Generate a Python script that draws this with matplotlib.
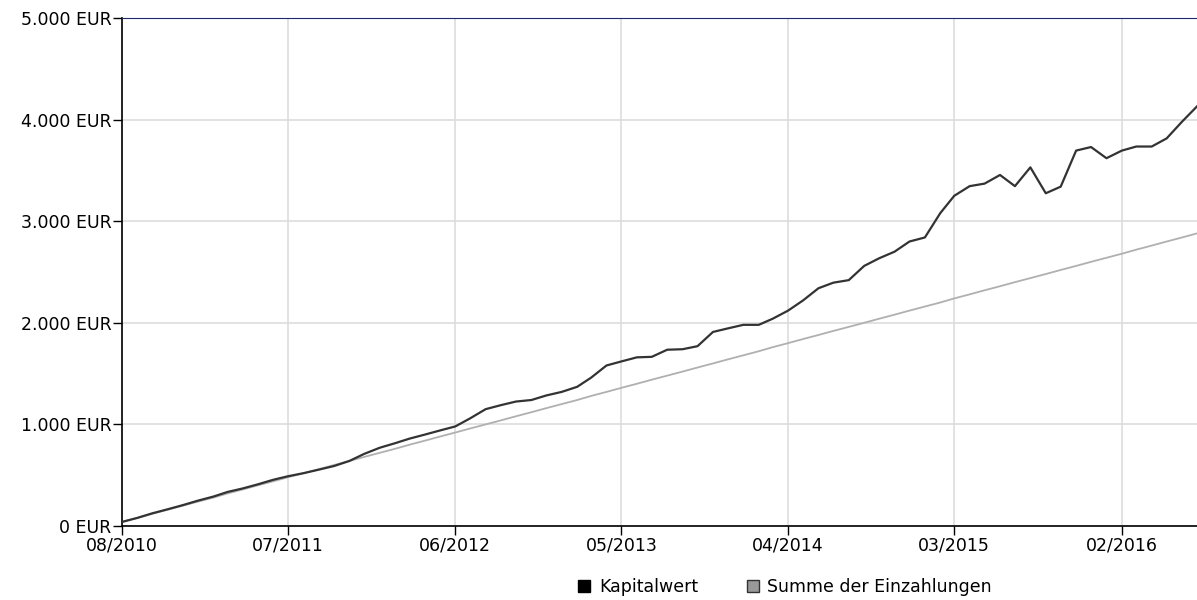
import numpy as np
import pandas as pd
import matplotlib
matplotlib.use("Agg")
import matplotlib.pyplot as plt
import matplotlib.dates as mdates
from matplotlib.patches import Patch
from matplotlib.ticker import FuncFormatter

# monthly values, 08/2010 .. 07/2016
months = pd.date_range('2010-08-01', periods=72, freq='MS')

kapitalwert = [40, 80, 125, 165, 205, 250, 290, 335, 370, 410,
               455, 490, 520, 555, 590, 640, 710, 770, 815, 860,
               900, 940, 980, 1060, 1150, 1190, 1225, 1240, 1285, 1320,
               1370, 1460, 1580, 1620, 1660, 1665, 1735, 1740, 1770, 1910,
               1945, 1980, 1980, 2040, 2120, 2220, 2340, 2395, 2420, 2560,
               2635, 2700, 2800, 2840, 3080, 3250, 3345, 3370, 3455, 3345,
               3530, 3275, 3340, 3695, 3730, 3620, 3695, 3735, 3735, 3815,
               3980, 4130]
einzahlungen = [40 * (i + 1) for i in range(72)]

tick_months = months[::11]
y_ticks = [0, 1000, 2000, 3000, 4000, 5000]

fig = plt.figure(figsize=(11.97, 6.0), dpi=100)
ax = fig.add_axes([122/1197, 74/600, 1 - 122/1197, 508/600])

ax.plot(months, einzahlungen, color='#b0b0b0', lw=1.3, zorder=3)
ax.plot(months, kapitalwert, color='#333333', lw=1.6, zorder=4)

ax.set_xlim(months[0], months[-1])
ax.set_ylim(0, 5000)
ax.set_xticks(tick_months)
ax.xaxis.set_major_formatter(mdates.DateFormatter('%m/%Y'))
ax.set_yticks(y_ticks)
ax.yaxis.set_major_formatter(FuncFormatter(lambda v, p: '{:,.0f}'.format(v).replace(',', '.') + ' EUR'))

ax.grid(True, color='#dddddd', lw=1.2, zorder=0)
ax.tick_params(axis='both', direction='out', length=6.5, width=1, colors='black',
               labelsize=12.5, pad=1)
ax.spines['right'].set_visible(False)
ax.spines['top'].set_color('#1f2a6b')
ax.spines['left'].set_color('black')
ax.spines['bottom'].set_color('black')
ax.spines['left'].set_linewidth(1.2)
ax.spines['bottom'].set_linewidth(1.2)

handles = [Patch(facecolor='black', edgecolor='black', label='Kapitalwert'),
           Patch(facecolor='#999999', edgecolor='#333333', label='Summe der Einzahlungen')]
fig.legend(handles=handles, loc='center', bbox_to_anchor=(785/1197, 13/600), ncol=2,
           frameon=False, fontsize=12.5, handlelength=0.7, handleheight=0.7,
           handletextpad=0.5, columnspacing=2.8, borderpad=0)

fig.savefig('out.png', dpi=100)
